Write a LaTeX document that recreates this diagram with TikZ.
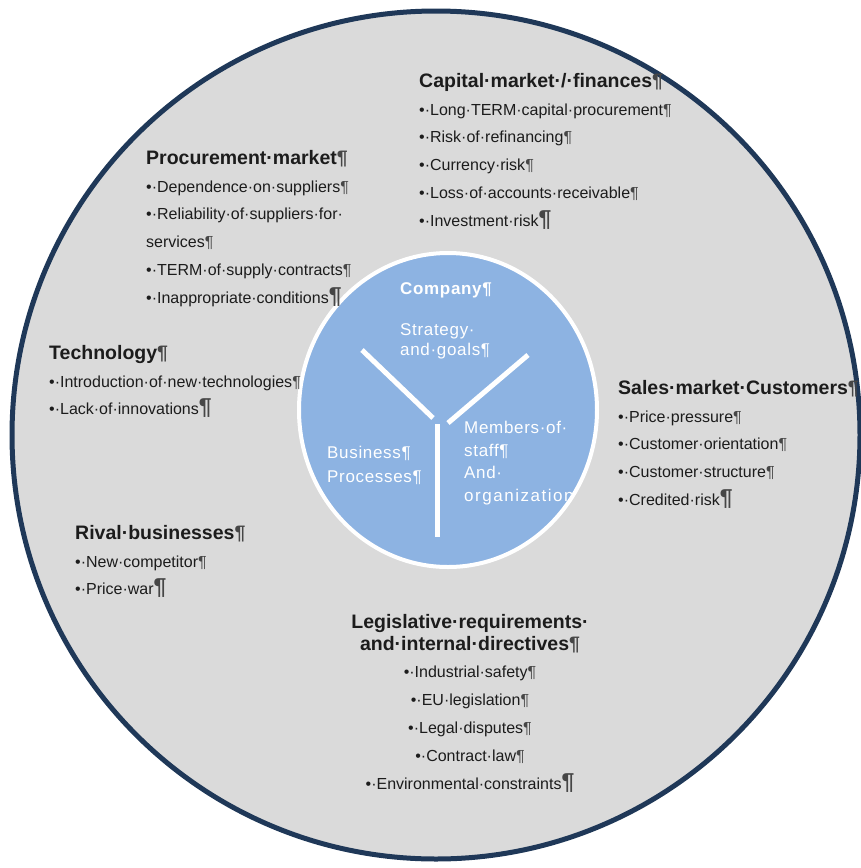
\documentclass[tikz,border=0pt]{standalone}
\usepackage{fontspec}
\setmainfont{Liberation Sans}
\newfontfamily\corefont[LetterSpace=4]{Liberation Sans}
\usetikzlibrary{shapes.geometric}

\definecolor{ringblue}{RGB}{31,56,88}
\definecolor{discgray}{RGB}{218,218,218}
\definecolor{coreblue}{RGB}{141,179,226}
\definecolor{inktext}{RGB}{28,28,28}
\definecolor{pilgray}{RGB}{70,70,70}

% paragraph marks as they show in the text
\newcommand{\pil}{{\color{pilgray}¶}}
\newcommand{\lastpil}{{\fontsize{23}{23}\selectfont\bfseries\color{pilgray}¶}}
\newcommand{\hd}[1]{{\fontsize{19.5}{27.8}\selectfont\bfseries #1}}

\begin{document}
\begin{tikzpicture}[x=1pt,y=-1pt,
  block/.style={anchor=north west, inner sep=0pt, align=left, text=inktext,
    font=\fontsize{16}{27.8}\selectfont},
  coretext/.style={anchor=north west, inner sep=0pt, align=left, text=white,
    font=\corefont\fontsize{17}{22}\selectfont},
  spoke/.style={white, line width=5pt}]
\useasboundingbox (0,0) rectangle (860,868);

% environment disc and company core
\node[circle, draw=ringblue, fill=discgray, line width=5pt,
  minimum size=848pt, inner sep=0pt] (env) at (436,435) {};
\node[ellipse, draw=white, fill=coreblue, line width=4pt,
  minimum width=298pt, minimum height=314pt, inner sep=0pt] (core) at (448,410) {};

% the three spokes inside the core
\coordinate (spokeLa) at (362,350);
\coordinate (spokeLb) at (433,418);
\coordinate (spokeRa) at (528,355);
\coordinate (spokeRb) at (448,423);
\coordinate (spokeDa) at (437,424);
\coordinate (spokeDb) at (437,537);
\draw[spoke] (spokeLa) -- (spokeLb);
\draw[spoke] (spokeRa) -- (spokeRb);
\draw[spoke] (spokeDa) -- (spokeDb);

% core labels
\node[coretext, anchor=center, font=\corefont\fontsize{17}{22}\selectfont\bfseries]
  (company) at (446,290) {Company¶};
\node[coretext, font=\corefont\fontsize{17}{20}\selectfont]
  (strategy) at (400,323) {Strategy·\\and·goals¶};
\node[coretext, font=\corefont\fontsize{17}{23.5}\selectfont]
  (business) at (327,446) {Business¶\\Processes¶};
\begin{scope}
  \clip (448,410) ellipse [x radius=146pt, y radius=154pt];
  \node[coretext, font=\corefont\fontsize{17}{22.5}\selectfont]
    (members) at (464,421) {Members·of·\\staff¶\\And·\\{\addfontfeature{LetterSpace=9}organization}};
\end{scope}

% risk fields around the company
\node[block] (capital) at (419,73) {\hd{Capital·market·/·finances\pil}\\
  •·Long·TERM·capital·procurement\pil\\
  •·Risk·of·refinancing\pil\\
  •·Currency·risk\pil\\
  •·Loss·of·accounts·receivable\pil\\
  •·Investment·risk\lastpil};

\node[block] (procurement) at (146,150) {\hd{Procurement·market\pil}\\
  •·Dependence·on·suppliers\pil\\
  •·Reliability·of·suppliers·for·\\
  services\pil\\
  •·TERM·of·supply·contracts\pil\\
  •·Inappropriate·conditions\lastpil};

\node[block] (technology) at (49,345) {\hd{Technology\pil}\\
  •·Introduction·of·new·technologies\pil\\
  •·Lack·of·innovations\lastpil};

\node[block] (sales) at (618,380) {\hd{Sales·market·Customers\pil}\\
  •·Price·pressure\pil\\
  •·Customer·orientation\pil\\
  •·Customer·structure\pil\\
  •·Credited·risk\lastpil};

\node[block] (rival) at (75,525) {\hd{Rival·businesses\pil}\\
  •·New·competitor\pil\\
  •·Price·war\lastpil};

\node[block, anchor=north, align=center] (legal) at (470,614)
  {\hd{Legislative·requirements·}\\[-6pt]
  \hd{and·internal·directives\pil}\\
  •·Industrial·safety\pil\\
  •·EU·legislation\pil\\
  •·Legal·disputes\pil\\
  •·Contract·law\pil\\
  •·Environmental·constraints\lastpil};
\end{tikzpicture}
\end{document}
